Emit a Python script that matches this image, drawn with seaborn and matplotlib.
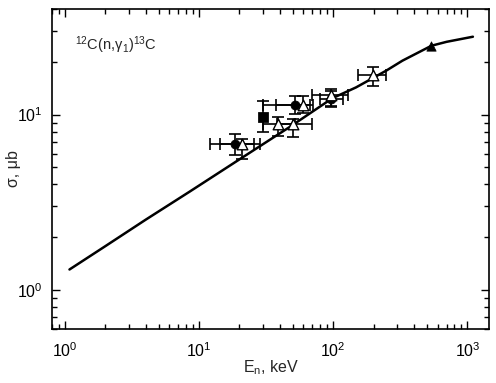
import numpy as np
import pandas as pd
import matplotlib
matplotlib.use("Agg")
import matplotlib.pyplot as plt
import seaborn as sns
from matplotlib.ticker import LogLocator, NullFormatter

# ---- data ----
curve_E = [1.08, 2.0, 4.0, 8.5, 20.0, 47.3, 98.5, 148.0, 248.0, 328.0, 540.0, 700.0, 1100.0]
curve_sigma = [1.31, 1.78, 2.52, 3.64, 5.56, 8.5, 12.4, 14.3, 17.8, 20.3, 24.7, 26.0, 27.8]

circ_E = [18.5, 51.5, 97.0]
circ_sigma = [6.8, 11.4, 12.3]
circ_E_lo = [12.0, 29.9, 80.0]
circ_E_hi = [25.6, 67.4, 118.0]
circ_s_lo = [5.9, 10.1, 11.2]
circ_s_hi = [7.8, 12.8, 13.6]

tri_E = [21.0, 59.3, 39.0, 49.7, 96.6, 198.0]
tri_sigma = [6.8, 11.4, 8.8, 8.8, 12.9, 16.9]
tri_E_lo = [14.2, 37.6, 30.0, 38.0, 70.0, 152.0]
tri_E_hi = [28.3, 70.5, 52.0, 70.0, 128.0, 248.0]
tri_s_lo = [5.55, 10.2, 7.6, 7.5, 11.0, 14.6]
tri_s_hi = [7.3, 12.7, 9.7, 9.5, 14.0, 18.6]

sq_E = [30.0]
sq_sigma = [9.7]
sq_s_lo = [8.0]
sq_s_hi = [12.0]

ftri_E = [540.0]
ftri_sigma = [24.7]

x_ticks = [1, 10, 100, 1000]
y_ticks = [1, 10]

# ---- style ----
sns.set_style("ticks")
plt.rcParams['font.family'] = ['Liberation Sans', 'DejaVu Sans']
plt.rcParams['mathtext.fontset'] = 'custom'
plt.rcParams['mathtext.rm'] = 'Liberation Sans'
plt.rcParams['mathtext.it'] = 'Liberation Sans'
plt.rcParams['mathtext.default'] = 'regular'

fig = plt.figure(figsize=(4.96, 3.83), dpi=100)
ax = fig.add_axes([52/496, 1-329/383, (489-52)/496, (329-9)/383])

df_curve = pd.DataFrame({"E": curve_E, "sigma": curve_sigma})
sns.lineplot(data=df_curve, x="E", y="sigma", ax=ax, color="black", lw=1.8, zorder=2)

def ebars(E, s, elo=None, ehi=None, slo=None, shi=None):
    E = np.array(E); s = np.array(s)
    xerr = None
    yerr = None
    if elo is not None:
        xerr = [E - np.array(elo), np.array(ehi) - E]
    if slo is not None:
        yerr = [s - np.array(slo), np.array(shi) - s]
    ax.errorbar(E, s, xerr=xerr, yerr=yerr, fmt='none', ecolor='black',
                elinewidth=1.2, capsize=4, capthick=1.2, zorder=3)

ebars(circ_E, circ_sigma, circ_E_lo, circ_E_hi, circ_s_lo, circ_s_hi)
ebars(tri_E, tri_sigma, tri_E_lo, tri_E_hi, tri_s_lo, tri_s_hi)
ebars(sq_E, sq_sigma, slo=sq_s_lo, shi=sq_s_hi)

sns.scatterplot(x=circ_E, y=circ_sigma, ax=ax, marker='o', s=42, color='black',
                edgecolor='black', zorder=4)
sns.scatterplot(x=tri_E, y=tri_sigma, ax=ax, marker='^', s=58, facecolor='white',
                edgecolor='black', linewidth=1.0, zorder=5)
sns.scatterplot(x=sq_E, y=sq_sigma, ax=ax, marker='s', s=48, color='black',
                edgecolor='black', zorder=4)
sns.scatterplot(x=ftri_E, y=ftri_sigma, ax=ax, marker='^', s=45, color='black',
                edgecolor='black', zorder=4)

ax.set_xscale('log')
ax.set_yscale('log')
ax.set_xlim(0.8, 1450)
ax.set_ylim(0.6, 40)

ax.xaxis.set_minor_locator(LogLocator(base=10, subs=np.arange(2, 10), numticks=20))
ax.yaxis.set_minor_locator(LogLocator(base=10, subs=np.arange(2, 10), numticks=20))
ax.xaxis.set_minor_formatter(NullFormatter())
ax.yaxis.set_minor_formatter(NullFormatter())
ax.set_xticks(x_ticks)
ax.set_xticklabels([f"$10^{{{int(np.log10(v))}}}$" for v in x_ticks])
ax.set_yticks(y_ticks)
ax.set_yticklabels([f"$10^{{{int(np.log10(v))}}}$" for v in y_ticks])

ax.tick_params(which='both', direction='in', top=True, right=True, colors='black',
               labelsize=11.5)
ax.tick_params(which='major', length=6, width=1)
ax.tick_params(which='minor', length=3.5, width=1)
ax.tick_params(axis='x', which='major', pad=9)
ax.tick_params(axis='y', which='major', pad=7)
for sp in ax.spines.values():
    sp.set_visible(True)
    sp.set_linewidth(1.2)
    sp.set_color('black')

ax.set_xlabel("E$_n$, keV", fontsize=11.5)
ax.set_ylabel("σ, μb", fontsize=11.5)
ax.xaxis.set_label_coords(0.5, (329-358)/320)
ax.yaxis.set_label_coords((21-52)/437, 0.5)

ax.text(0.053, 0.8875, r"$^{12}$C(n,γ$_1$)$^{13}$C", transform=ax.transAxes,
        fontsize=10.5, ha='left', va='center')

fig.savefig("out.png", dpi=100)
